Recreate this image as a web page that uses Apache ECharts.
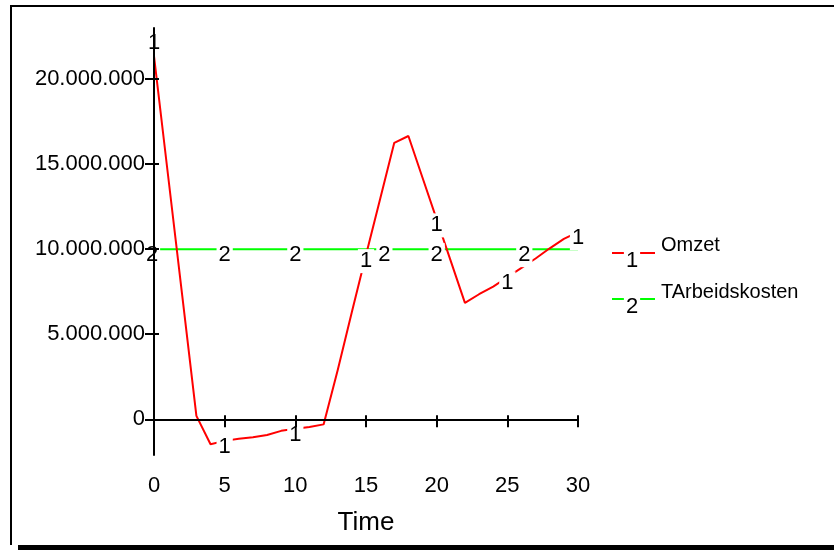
<!DOCTYPE html>
<html><head><meta charset="utf-8">
<script src="https://cdn.jsdelivr.net/npm/echarts@6/dist/echarts.min.js"></script>
<style>html,body{margin:0;padding:0;background:#fff}#c{width:834px;height:550px}</style>
</head><body><div id="c"></div>
<script>
const time = [0,1,2,3,4,5,6,7,8,9,10,11,12,13,14,15,16,17,18,19,20,21,22,23,24,25,26,27,28,29,30];
const omzet = [21350000,14300000,7250000,200000,-1470000,-1270000,-1150000,-1050000,-920000,-680000,-560000,-450000,-300000,2900000,6300000,9650000,12950000,16250000,16650000,14200000,11750000,9300000,6840000,7350000,7800000,8350000,8900000,9450000,10050000,10600000,11000000];
const tarbeidskosten = [10000000,10000000,10000000,10000000,10000000,10000000,10000000,10000000,10000000,10000000,10000000,10000000,10000000,10000000,10000000,10000000,10000000,10000000,10000000,10000000,10000000,10000000,10000000,10000000,10000000,10000000,10000000,10000000,10000000,10000000,10000000];
const yTicks = [0,5000000,10000000,15000000,20000000];
const xTicks = [0,5,10,15,20,25,30];
const omzetLabelTimes = [0,5,10,15,20,25,30];
const kostenLabelTimes = [0,5,10,16.3,20,26.2];
const seriesNames = ['Omzet','TArbeidskosten'];
const seriesMarks = ['1','2'];
const yMin = -2100000, yMax = 23000000;

const FONT = 'Liberation Sans, Arial, sans-serif';
const RED = '#ff0000', GREEN = '#00ff00';
const fmt = v => String(v).replace(/\B(?=(\d{3})+(?!\d))/g, '.');

const labelStyle = {show:true, position:'inside', offset:[0,6], fontFamily:FONT, fontSize:22, color:'#000',
  backgroundColor:'#fff', padding:[1,2], lineHeight:22, textBorderWidth:0, opacity:1};

const omzetLabelData = omzetLabelTimes.map(t => {
  const d = {value:[t, omzet[time.indexOf(t)]]};
  if (t === 0) d.label = {offset:[0,-13]};
  return d;
});
const kostenLabelData = kostenLabelTimes.map(t => {
  const d = {value:[t, tarbeidskosten[Math.round(t)]]};
  if (t === 0) d.label = {offset:[-2,6]};
  return d;
});

const chart = echarts.init(document.getElementById('c'), null, {renderer:'canvas'});
const axisLine = {show:true, lineStyle:{color:'#000', width:2}};
chart.setOption({
  animation:false,
  backgroundColor:'#fff',
  grid:{left:154, top:28, right:256, bottom:95},
  xAxis:[
    {type:'value', min:0, max:30, z:20, axisLine:axisLine, splitLine:{show:false},
     axisTick:{show:true, customValues:xTicks, length:8, lineStyle:{color:'#000', width:2}},
     axisLabel:{customValues:xTicks, margin:20, fontFamily:FONT, fontSize:22, color:'#000'},
     name:'Time', nameLocation:'middle', nameGap:55, nameTextStyle:{fontFamily:FONT, fontSize:26, color:'#000'}},
    {type:'value', min:0, max:30, z:20, position:'bottom', axisLine:{show:false}, splitLine:{show:false},
     axisTick:{show:true, inside:true, customValues:xTicks, length:4, lineStyle:{color:'#000', width:2}},
     axisLabel:{show:false}}
  ],
  yAxis:[
    {type:'value', min:yMin, max:yMax, z:20, axisLine:axisLine, splitLine:{show:false},
     axisTick:{show:true, customValues:yTicks, length:9, lineStyle:{color:'#000', width:2}},
     axisLabel:{customValues:yTicks, margin:9, fontFamily:FONT, fontSize:22, color:'#000', formatter:fmt}},
    {type:'value', min:yMin, max:yMax, z:20, position:'left', axisLine:{show:false}, splitLine:{show:false},
     axisTick:{show:true, inside:true, customValues:yTicks, length:5, lineStyle:{color:'#000', width:2}},
     axisLabel:{show:false}}
  ],
  series:[
    {name:seriesNames[1], type:'line', data:time.map((t,i)=>[t,tarbeidskosten[i]]), showSymbol:false,
     lineStyle:{color:GREEN, width:2}, z:2},
    {name:seriesNames[0], type:'line', data:time.map((t,i)=>[t,omzet[i]]), showSymbol:false,
     lineStyle:{color:RED, width:2}, z:3},
    {type:'scatter', data:omzetLabelData, symbolSize:1, itemStyle:{color:'rgba(0,0,0,0)'},
     label:Object.assign({}, labelStyle, {formatter:seriesMarks[0]}), z:10},
    {type:'scatter', data:kostenLabelData, symbolSize:1, itemStyle:{color:'rgba(0,0,0,0)'},
     label:Object.assign({}, labelStyle, {formatter:seriesMarks[1]}), z:10}
  ],
  graphic:[
    {type:'rect', shape:{x:10, y:5, width:2, height:540}, style:{fill:'#000'}},
    {type:'rect', shape:{x:10, y:5, width:824, height:2}, style:{fill:'#000'}},
    {type:'rect', shape:{x:18, y:545, width:816, height:5}, style:{fill:'#000'}},
    // legend
    {type:'line', shape:{x1:612, y1:253, x2:655, y2:253}, style:{stroke:RED, lineWidth:2}},
    {type:'text', x:632, y:261, style:{text:seriesMarks[0], fontFamily:FONT, fontSize:22, fill:'#000', align:'center', verticalAlign:'middle', backgroundColor:'#fff', padding:[0,2]}},
    {type:'text', x:661, y:245, style:{text:seriesNames[0], fontFamily:FONT, fontSize:20, fill:'#000', verticalAlign:'middle'}},
    {type:'line', shape:{x1:612, y1:299, x2:655, y2:299}, style:{stroke:GREEN, lineWidth:2}},
    {type:'text', x:632, y:307, style:{text:seriesMarks[1], fontFamily:FONT, fontSize:22, fill:'#000', align:'center', verticalAlign:'middle', backgroundColor:'#fff', padding:[0,2]}},
    {type:'text', x:661, y:292, style:{text:seriesNames[1], fontFamily:FONT, fontSize:20, fill:'#000', verticalAlign:'middle'}}
  ]
});
</script></body></html>
